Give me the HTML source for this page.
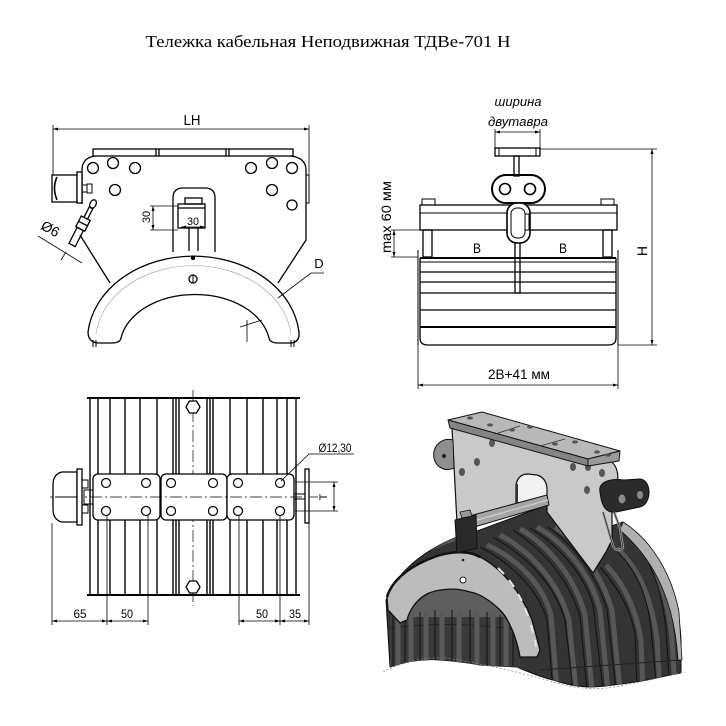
<!DOCTYPE html>
<html><head><meta charset="utf-8"><style>
html,body{margin:0;padding:0;background:#fff;}
svg{display:block;}
text{font-family:"Liberation Sans","DejaVu Sans",sans-serif;fill:#000;}
</style></head><body>
<svg width="726" height="726" viewBox="0 0 726 726" xmlns="http://www.w3.org/2000/svg">
<defs>
<marker id="a" viewBox="0 0 10 6" refX="10" refY="3" markerWidth="8" markerHeight="3" orient="auto-start-reverse" markerUnits="userSpaceOnUse"><path d="M0,0 L10,3 L0,6 z" fill="#000"/></marker>
<clipPath id="cc"><path d="M386 600 C395 575 420 552 457 537 L480 530 L547 505 L600 530 L623 522 C665 560 679 600 681 640 L681 673 Q665 676 647 680 Q630 683 613 685 Q600 687 587 687 Q570 686 553 680 Q540 677 517 667 L480 665 Q465 662 440 660 Q415 658 390 667 Z"/></clipPath>
</defs>
<rect width="726" height="726" fill="#fff"/>
<text x="328" y="47" style="font-family:'Liberation Serif',serif" font-size="17" text-anchor="middle" textLength="365" lengthAdjust="spacingAndGlyphs">Тележка кабельная Неподвижная ТДВе-701 Н</text>

<!-- ============ TOP-LEFT VIEW ============ -->
<g fill="none" stroke="#000" stroke-width="1.3">
  <line x1="53" y1="129" x2="309" y2="129" stroke-width="0.8" marker-start="url(#a)" marker-end="url(#a)"/>
  <line x1="53" y1="125" x2="53" y2="178" stroke-width="0.8"/>
  <line x1="309" y1="125" x2="309" y2="176" stroke-width="0.8"/>
  <rect x="93" y="149" width="200" height="7"/>
  <line x1="156" y1="149" x2="156" y2="156"/><line x1="159" y1="149" x2="159" y2="156"/>
  <line x1="226" y1="149" x2="226" y2="156"/><line x1="229" y1="149" x2="229" y2="156"/>
  <path d="M95 156 Q82 158 82 170 L82 204 M80 235 L110 283 M291 156 Q306 158 306 170 L306 240 L278 283"/>
  <rect x="306" y="175" width="3" height="28" stroke-width="1"/>
  <circle cx="93" cy="168" r="5.5"/><circle cx="113" cy="163" r="5.5"/><circle cx="135" cy="168" r="5.5"/><circle cx="115" cy="190" r="5.5"/>
  <circle cx="251" cy="168" r="5.5"/><circle cx="272" cy="163" r="5.5"/><circle cx="292" cy="168" r="5.5"/><circle cx="272" cy="190" r="5.5"/><circle cx="292" cy="205" r="5"/>
  <rect x="52" y="175" width="25" height="27" fill="#fff"/>
  <path d="M57 177 Q52 188 57 200" stroke-width="1.6"/>
  <rect x="77" y="172" width="5" height="31" fill="#fff"/>
  <rect x="82" y="185" width="5" height="7" stroke-width="1"/><rect x="87" y="184" width="5" height="9" stroke-width="1"/>
  <g transform="translate(93,204) rotate(27)">
    <ellipse cx="0" cy="0" rx="3" ry="4.5"/>
    <rect x="-2" y="4" width="4" height="12"/>
    <rect x="-5" y="16" width="10" height="12" fill="#fff"/>
    <line x1="-5" y1="22" x2="5" y2="22"/>
    <rect x="-3.5" y="28" width="7" height="18"/>
  </g>
  <line x1="38" y1="236" x2="82" y2="263" stroke-width="0.8"/>
  <line x1="66" y1="252" x2="61" y2="260" stroke-width="0.8"/>
  <path d="M173 252 L173 198 Q173 188 183 188 L205 188 Q215 188 215 198 L215 252"/>
  <rect x="185" y="198" width="17" height="6"/>
  <rect x="178" y="204" width="27" height="24"/>
  <line x1="178" y1="208" x2="205" y2="208"/>
  <line x1="189" y1="228" x2="189" y2="251"/><line x1="198" y1="228" x2="198" y2="251"/>
  <line x1="181" y1="227" x2="205" y2="227" stroke-width="0.8" marker-start="url(#a)" marker-end="url(#a)"/>
  <line x1="150" y1="206" x2="178" y2="206" stroke-width="0.8"/>
  <line x1="150" y1="230" x2="178" y2="230" stroke-width="0.8"/>
  <line x1="153" y1="206" x2="153" y2="230" stroke-width="0.8" marker-start="url(#a)" marker-end="url(#a)"/>
  <path d="M88 332 A106 84 0 0 1 299 332 Q300 342 291 343 L278 343 Q270 343 269 338 A75 52 0 0 0 121 338 Q120 343 112 343 L98 343 Q88 342 88 332 Z" fill="#fff"/>
  <path d="M96 334 A98 76 0 0 1 291 334" stroke="#aaa" stroke-width="0.7"/>
  <circle cx="193" cy="258" r="1.5" fill="#000"/>
  <circle cx="193" cy="279" r="4"/><line x1="193" y1="275" x2="193" y2="283" stroke-width="1"/>
  <line x1="93" y1="340" x2="93" y2="347" stroke-width="1"/><line x1="96" y1="340" x2="96" y2="347" stroke-width="1"/>
  <line x1="291" y1="340" x2="291" y2="347" stroke-width="1"/><line x1="294" y1="340" x2="294" y2="347" stroke-width="1"/>
  <path d="M324 273 L311 273 L278 298" stroke-width="0.8"/>
  <path d="M247 342 L247 320 M240 327 L262 320" stroke-width="0.8"/>
</g>
<text x="192" y="125" font-size="15" text-anchor="middle" textLength="17" lengthAdjust="spacingAndGlyphs">LH</text>
<text x="319" y="268" font-size="13" text-anchor="middle">D</text>
<text x="193" y="225" font-size="11" text-anchor="middle" textLength="12" lengthAdjust="spacingAndGlyphs">30</text>
<text transform="translate(150,217) rotate(-90)" font-size="11" text-anchor="middle" textLength="12" lengthAdjust="spacingAndGlyphs">30</text>
<text transform="translate(48,233) rotate(30)" font-size="14" text-anchor="middle">Ø6</text>

<!-- ============ TOP-RIGHT VIEW ============ -->
<g fill="none" stroke="#000" stroke-width="1.3">
  <line x1="495" y1="132" x2="540" y2="132" stroke-width="0.8" marker-start="url(#a)" marker-end="url(#a)"/>
  <line x1="495" y1="129" x2="495" y2="148" stroke-width="0.8"/><line x1="540" y1="129" x2="540" y2="148" stroke-width="0.8"/>
  <rect x="495" y="148" width="45" height="8"/>
  <line x1="499" y1="148" x2="499" y2="156" stroke-width="1"/><line x1="536" y1="148" x2="536" y2="156" stroke-width="1"/>
  <line x1="540" y1="149" x2="657" y2="149" stroke-width="0.8"/>
  <line x1="618" y1="345" x2="657" y2="345" stroke-width="0.8"/>
  <line x1="652" y1="149" x2="652" y2="345" stroke-width="0.8" marker-start="url(#a)" marker-end="url(#a)"/>
  <rect x="514" y="156" width="5" height="20"/>
  <rect x="492" y="175" width="53" height="28" rx="14" stroke-width="2"/>
  <circle cx="505" cy="189" r="5.5" stroke-width="1.6"/><circle cx="530" cy="189" r="5.5" stroke-width="1.6"/>
  <rect x="422" y="199" width="13" height="6" stroke-width="1"/><rect x="601" y="199" width="13" height="6" stroke-width="1"/>
  <rect x="420" y="205" width="197" height="25"/>
  <line x1="420" y1="213" x2="617" y2="213" stroke-width="1"/>
  <rect x="423" y="230" width="9" height="27"/><rect x="603" y="230" width="9" height="27"/>
  <line x1="515" y1="240" x2="515" y2="293"/><line x1="520" y1="240" x2="520" y2="293"/><line x1="515" y1="293" x2="520" y2="293"/>
  <rect x="507" y="203" width="23" height="40" rx="10" fill="#fff" stroke-width="1.6"/>
  <rect x="511" y="208" width="14" height="30" rx="6" stroke-width="1"/>
  <rect x="525" y="214" width="4" height="16" stroke-width="1"/>
  <line x1="418" y1="250" x2="418" y2="345" stroke-width="1"/><line x1="618" y1="250" x2="618" y2="345" stroke-width="1"/>
  <line x1="420" y1="258" x2="616" y2="258" stroke-width="2"/>
  <line x1="420" y1="262" x2="616" y2="262" stroke-width="1"/>
  <line x1="420" y1="272" x2="616" y2="272" stroke-width="1.3"/>
  <line x1="420" y1="282" x2="616" y2="282" stroke-width="1.3"/>
  <line x1="420" y1="293" x2="616" y2="293" stroke-width="1.3"/>
  <line x1="420" y1="310" x2="616" y2="310" stroke-width="1.3"/>
  <line x1="420" y1="327" x2="616" y2="327" stroke-width="2"/>
  <path d="M420 258 L420 338 Q420 345 428 345 L608 345 Q616 345 616 338 L616 258"/>
  <line x1="391" y1="230" x2="423" y2="230" stroke-width="0.8"/>
  <line x1="391" y1="257" x2="418" y2="257" stroke-width="0.8"/>
  <line x1="394" y1="230" x2="394" y2="257" stroke-width="0.8" marker-start="url(#a)" marker-end="url(#a)"/>
  <line x1="418" y1="345" x2="418" y2="389" stroke-width="0.8"/><line x1="618" y1="345" x2="618" y2="389" stroke-width="0.8"/>
  <line x1="418" y1="385" x2="618" y2="385" stroke-width="0.8" marker-start="url(#a)" marker-end="url(#a)"/>
</g>
<text x="518" y="106" font-size="13" text-anchor="middle" textLength="47" lengthAdjust="spacingAndGlyphs" font-style="italic">ширина</text>
<text x="518" y="126" font-size="13" text-anchor="middle" textLength="60" lengthAdjust="spacingAndGlyphs" font-style="italic">двутавра</text>
<text transform="translate(391,217) rotate(-90)" font-size="14" text-anchor="middle" textLength="72" lengthAdjust="spacingAndGlyphs">max 60 мм</text>
<text transform="translate(647,251) rotate(-90)" font-size="14" text-anchor="middle">H</text>
<text x="477" y="253" font-size="14" text-anchor="middle" textLength="8" lengthAdjust="spacingAndGlyphs">B</text>
<text x="563" y="253" font-size="14" text-anchor="middle" textLength="8" lengthAdjust="spacingAndGlyphs">B</text>
<text x="519" y="379" font-size="14" text-anchor="middle" textLength="62" lengthAdjust="spacingAndGlyphs">2В+41 мм</text>

<!-- ============ BOTTOM-LEFT VIEW ============ -->
<g fill="none" stroke="#000" stroke-width="1.3">
  <g stroke-width="1.4">
    <line x1="90" y1="398" x2="90" y2="595"/><line x1="98" y1="398" x2="98" y2="595"/>
    <line x1="110" y1="398" x2="110" y2="595"/><line x1="125" y1="398" x2="125" y2="595"/>
    <line x1="140" y1="398" x2="140" y2="595"/><line x1="157" y1="398" x2="157" y2="595"/>
    <line x1="173" y1="398" x2="173" y2="595"/><line x1="176" y1="398" x2="176" y2="595"/>
    <line x1="179" y1="398" x2="179" y2="595"/>
    <line x1="207" y1="398" x2="207" y2="595"/><line x1="210" y1="398" x2="210" y2="595"/>
    <line x1="213" y1="398" x2="213" y2="595"/>
    <line x1="230" y1="398" x2="230" y2="595"/><line x1="247" y1="398" x2="247" y2="595"/>
    <line x1="263" y1="398" x2="263" y2="595"/><line x1="277" y1="398" x2="277" y2="595"/>
    <line x1="287" y1="398" x2="287" y2="595"/><line x1="296" y1="398" x2="296" y2="595"/>
  </g>
  <line x1="87" y1="398" x2="300" y2="398" stroke-width="2"/>
  <line x1="87" y1="595" x2="300" y2="595" stroke-width="2"/>
  <line x1="193" y1="390" x2="193" y2="606" stroke-width="0.7" stroke-dasharray="12,3,2,3"/>
  <polygon points="186,407 189.5,401 196.5,401 200,407 196.5,413 189.5,413" fill="#fff"/>
  <polygon points="186,587 189.5,581 196.5,581 200,587 196.5,593 189.5,593" fill="#fff"/>
  <rect x="93" y="474" width="67" height="46" rx="5" fill="#fff"/>
  <rect x="161" y="474" width="66" height="46" rx="5" fill="#fff"/>
  <rect x="227" y="474" width="67" height="46" rx="5" fill="#fff"/>
  <g stroke-width="1.2">
    <circle cx="106" cy="483" r="4.5"/><circle cx="146" cy="483" r="4.5"/><circle cx="171" cy="483" r="4.5"/><circle cx="213" cy="483" r="4.5"/><circle cx="238" cy="483" r="4.5"/><circle cx="280" cy="483" r="4.5"/>
    <circle cx="106" cy="511" r="4.5"/><circle cx="146" cy="511" r="4.5"/><circle cx="171" cy="511" r="4.5"/><circle cx="213" cy="511" r="4.5"/><circle cx="238" cy="511" r="4.5"/><circle cx="280" cy="511" r="4.5"/>
  </g>
  <line x1="50" y1="497" x2="318" y2="497" stroke-width="0.7" stroke-dasharray="12,3,2,3"/>
  <path d="M77 472 L62 472 Q53 474 53 485 L53 509 Q53 520 62 522 L77 522 Z" fill="#fff"/>
  <line x1="55" y1="497" x2="77" y2="497" stroke-width="1"/>
  <rect x="77" y="469" width="5" height="56" fill="#fff"/>
  <rect x="82" y="480" width="6" height="8" stroke-width="1"/><rect x="82" y="505" width="6" height="8" stroke-width="1"/>
  <rect x="84" y="490" width="9" height="14" stroke-width="1"/>
  <rect x="294" y="494" width="11" height="5" stroke-width="1"/>
  <rect x="305" y="469" width="4" height="54" fill="#fff"/>
  <path d="M281 481 L309 454 L354 454" stroke-width="0.8"/>
  <line x1="295" y1="482" x2="338" y2="482" stroke-width="0.8"/><line x1="295" y1="511" x2="338" y2="511" stroke-width="0.8"/>
  <line x1="334" y1="482" x2="334" y2="511" stroke-width="0.8" marker-start="url(#a)" marker-end="url(#a)"/>
  <g stroke-width="0.8">
    <line x1="52" y1="523" x2="52" y2="625"/><line x1="107" y1="515" x2="107" y2="625"/>
    <line x1="148" y1="515" x2="148" y2="625"/><line x1="239" y1="515" x2="239" y2="625"/>
    <line x1="280" y1="515" x2="280" y2="625"/><line x1="309" y1="523" x2="309" y2="625"/>
    <line x1="52" y1="621" x2="107" y2="621" marker-start="url(#a)" marker-end="url(#a)"/>
    <line x1="107" y1="621" x2="148" y2="621" marker-start="url(#a)" marker-end="url(#a)"/>
    <line x1="239" y1="621" x2="280" y2="621" marker-start="url(#a)" marker-end="url(#a)"/>
    <line x1="280" y1="621" x2="309" y2="621" marker-start="url(#a)" marker-end="url(#a)"/>
  </g>
</g>
<text x="335" y="452" font-size="12" text-anchor="middle" textLength="33" lengthAdjust="spacingAndGlyphs">Ø12,30</text>
<text transform="translate(327,497) rotate(-90)" font-size="11" text-anchor="middle">T</text>
<text x="80" y="618" font-size="12" text-anchor="middle" textLength="13" lengthAdjust="spacingAndGlyphs">65</text>
<text x="127" y="618" font-size="12" text-anchor="middle" textLength="12" lengthAdjust="spacingAndGlyphs">50</text>
<text x="262" y="618" font-size="12" text-anchor="middle" textLength="12" lengthAdjust="spacingAndGlyphs">50</text>
<text x="295" y="618" font-size="12" text-anchor="middle" textLength="12" lengthAdjust="spacingAndGlyphs">35</text>

<!-- ============ 3D VIEW ============ -->
<g stroke-linejoin="round">
  <path d="M386 600 C395 575 420 552 457 537 L480 530 L547 505 L600 530 L623 522 C665 560 679 600 681 640 L681 673 Q665 676 647 680 Q630 683 613 685 Q600 687 587 687 Q570 686 553 680 Q540 677 517 667 L480 665 Q465 662 440 660 Q415 658 390 667 Z" fill="#343434" stroke="#111" stroke-width="1"/>
  <g clip-path="url(#cc)" fill="none">
    <!-- inner arch gray -->
    <path d="M405 625 C410 603 430 588 455 586 C480 588 502 603 515 628 L515 640 L405 640 Z" fill="#5e5e5e" stroke="none"/>
    <g stroke="#575757" stroke-width="5">
      <path d="M487 545 C505 553 540 575 551 615 L557 690"/>
      <path d="M500 535 C520 545 557 575 569 620 L576 690"/>
      <path d="M520 529 C540 540 573 570 585 615 L592 690"/>
      <path d="M537 527 C560 540 590 570 600 610 L608 690"/>
      <path d="M555 527 C575 540 600 570 612 610 L620 690"/>
      <path d="M606 565 C625 585 636 610 641 640 L643 690"/>
      <path d="M617 548 C640 570 652 600 657 640 L660 690"/>
      <path d="M630 535 C655 560 668 595 672 640 L675 690"/>
      <path d="M430 548 C445 541 460 537 470 535"/>
    </g>
    <g fill="#3a3a3a" stroke="none">
      <rect x="390" y="617" width="130" height="55"/>
    </g>
    <g stroke="#111" stroke-width="1">
      <path d="M480 547 C505 560 537 585 547 620 L553 690"/>
      <path d="M493 537 C515 550 552 575 565 620 L573 690"/>
      <path d="M513 530 C535 545 567 572 580 617 L587 690"/>
      <path d="M530 528 C553 542 583 570 593 605 L603 690"/>
      <path d="M548 527 C570 542 596 572 607 610 L616 690"/>
      <path d="M600 567 C620 590 630 610 635 633 L637 690"/>
      <path d="M613 547 C635 568 645 590 650 620 L657 690"/>
      <path d="M627 533 C650 555 662 590 666 630 L670 690"/>
      <line x1="393" y1="615" x2="393" y2="670"/><line x1="405" y1="615" x2="405" y2="670"/>
      <line x1="420" y1="612" x2="420" y2="670"/><line x1="435" y1="610" x2="435" y2="670"/>
      <line x1="452" y1="610" x2="452" y2="670"/><line x1="470" y1="610" x2="470" y2="670"/>
      <line x1="487" y1="612" x2="487" y2="670"/><line x1="500" y1="615" x2="500" y2="670"/>
      <line x1="513" y1="618" x2="513" y2="670"/>
      <path d="M390 628 Q450 620 520 630" stroke="#222"/>
      <line x1="540" y1="670" x2="681" y2="660" stroke="#222"/>
    </g>
    <g stroke="#5a5a5a" stroke-width="5">
      <line x1="398" y1="618" x2="398" y2="670"/><line x1="411" y1="615" x2="411" y2="670"/>
      <line x1="426" y1="612" x2="426" y2="670"/><line x1="442" y1="612" x2="442" y2="670"/>
      <line x1="459" y1="612" x2="459" y2="670"/><line x1="477" y1="612" x2="477" y2="670"/>
      <line x1="493" y1="614" x2="493" y2="670"/><line x1="506" y1="618" x2="506" y2="670"/>
    </g>
  </g>
  <path d="M623 522 C652 540 672 575 679 612 L682 660 L678 660 C675 610 660 565 620 530 Z" fill="#b0b0b0" stroke="#111" stroke-width="0.8"/>
  <path d="M383 672 Q415 656 445 658 Q500 666 560 684 Q590 692 620 686 Q660 678 685 672" fill="none" stroke="#888" stroke-width="0.7" stroke-dasharray="2,2"/>
  <!-- plate -->
  <path d="M452 428 L612 462 Q620 470 617 484 L612 505 L612 540 L606 552 L593 573 L547 512 L547 500 L457 523 Z" fill="#c9c9c9" stroke="#111" stroke-width="1.2"/>
  <path d="M516 512 L516 485 Q518 474 528 474 L537 475 Q547 478 547 490 L547 505 Z" fill="#f2f2f2" stroke="#111" stroke-width="1.2"/>
  <line x1="517" y1="484" x2="517" y2="511" stroke="#333" stroke-width="2"/>
  <g fill="#555">
    <ellipse cx="462" cy="472" rx="3" ry="4"/><ellipse cx="477" cy="462" rx="3" ry="4"/><ellipse cx="492" cy="443" rx="3" ry="4"/>
    <ellipse cx="573" cy="467" rx="3" ry="4"/><ellipse cx="588" cy="467" rx="3" ry="4"/><ellipse cx="602" cy="473" rx="3" ry="4"/><ellipse cx="587" cy="490" rx="3" ry="4"/>
  </g>
  <path d="M453 440 C441 437 432 447 434 458 C436 468 446 472 454 468 Z" fill="#8f8f8f" stroke="#111" stroke-width="1"/>
  <circle cx="444" cy="456" r="2" fill="#222"/>
  <path d="M448 420 L482 412 L620 451 L588 459 Z" fill="#b8b8b8" stroke="#111" stroke-width="1"/>
  <path d="M448 420 L588 459 L588 466 L450 428 Z" fill="#858585" stroke="#111" stroke-width="1"/>
  <path d="M588 459 L620 451 L619 461 L588 466 Z" fill="#9a9a9a" stroke="#111" stroke-width="1"/>
  <line x1="495" y1="434" x2="520" y2="426" stroke="#333" stroke-width="0.8"/>
  <line x1="540" y1="446" x2="565" y2="439" stroke="#333" stroke-width="0.8"/>
  <g fill="#555">
    <ellipse cx="470" cy="418" rx="3" ry="1.6"/><ellipse cx="490" cy="425" rx="3" ry="1.6"/><ellipse cx="512" cy="430" rx="3" ry="1.6"/>
    <ellipse cx="530" cy="427" rx="3" ry="1.6"/><ellipse cx="555" cy="444" rx="3" ry="1.6"/><ellipse cx="575" cy="442" rx="3" ry="1.6"/>
    <ellipse cx="597" cy="452" rx="3" ry="1.6"/><ellipse cx="608" cy="455" rx="3" ry="1.6"/>
  </g>
  <path d="M462 518 L547 495 L549 505 L464 530 Z" fill="#a4a4a4" stroke="#111" stroke-width="1"/>
  <line x1="463" y1="524" x2="548" y2="500" stroke="#d0d0d0" stroke-width="1.2"/>
  <!-- saddle face -->
  <path d="M387 597 C392 580 410 565 440 555 C455 551 470 551 480 557 C500 567 520 590 532 620 L540 650 L537 657 L520 657 C517 640 510 620 500 610 C490 600 478 593 470 592 C455 587 435 589 425 595 C415 601 409 612 407 620 L400 623 L388 610 Z" fill="#bcbcbc" stroke="#111" stroke-width="1.3"/>
  <path d="M387 597 C392 580 410 565 440 555 C455 551 470 551 480 557" fill="none" stroke="#111" stroke-width="2.5"/>
  <circle cx="463" cy="560" r="1.3" fill="#222"/>
  <circle cx="463" cy="580" r="3" fill="#fff" stroke="#222" stroke-width="1"/>
  <path d="M498 568 L504 574 M509 580 L514 587 M518 594 L522 601 M525 608 L528 616 M531 625 L533 633 M535 640 L536 647" stroke="#e6e6e6" stroke-width="2"/>
  <path d="M455 520 L476 515 L477 548 L457 553 Z" fill="#2a2a2a" stroke="#111" stroke-width="1"/>
  <path d="M460 512 L470 510 L472 516 L462 518 Z" fill="#999" stroke="#111" stroke-width="0.8"/>
  <path d="M600 492 C598 482 610 478 624 480 L640 479 C652 480 652 504 640 507 L616 512 C604 514 601 502 600 492 Z" fill="#2b2b2b" stroke="#111" stroke-width="1"/>
  <ellipse cx="622" cy="499" rx="3.5" ry="4.5" fill="#8a8a8a"/>
  <ellipse cx="640" cy="495" rx="3" ry="4" fill="#8a8a8a"/>
  <path d="M603 512 L613 546 Q617 553 623 548 L620 528 L614 512" fill="none" stroke="#999" stroke-width="2.5"/>
  <path d="M603 512 L613 546 Q617 553 623 548 L620 528 L614 512" fill="none" stroke="#222" stroke-width="0.7"/>
</g>
</svg>
</body></html>
